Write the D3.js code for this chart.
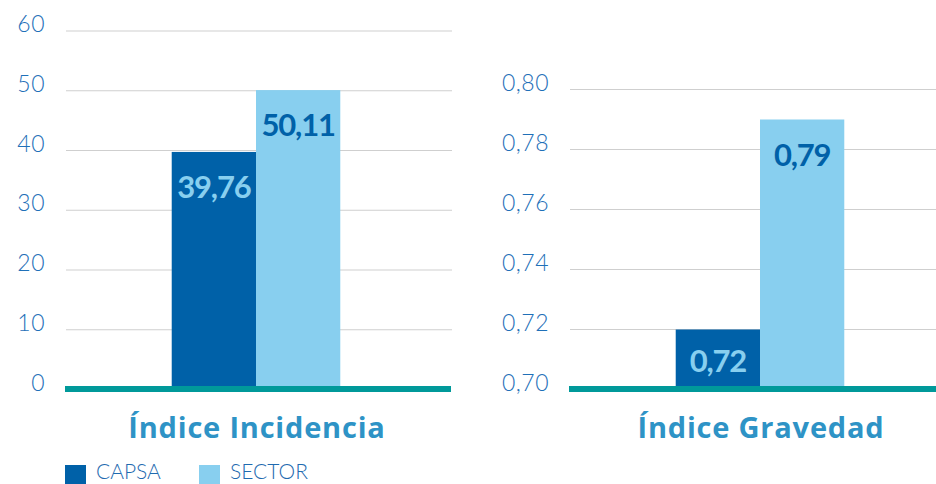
<!DOCTYPE html>
<html>
<head>
<meta charset="utf-8">
<script src="https://cdn.jsdelivr.net/npm/d3@7"></script>
<style>
  html, body { margin: 0; padding: 0; background: #ffffff; }
  svg { display: block; }
</style>
</head>
<body>
<svg id="chart" width="936" height="484"></svg>
<script>
// ---- data ----
const series = ["CAPSA", "SECTOR"];
const panelTitles = ["Índice Incidencia", "Índice Gravedad"];
const incidenciaValues = [39.76, 50.11];
const gravedadValues = [0.72, 0.79];
const incidenciaTicks = [0, 10, 20, 30, 40, 50, 60];
const gravedadTicks = [0.70, 0.72, 0.74, 0.76, 0.78, 0.80];

const colors = { CAPSA: "#0061a8", SECTOR: "#88cfef" };
const labelColors = { CAPSA: "#88cfef", SECTOR: "#0061a8" };
const fmtInc = v => d3.format(".2f")(v).replace(".", ",");
const fmtTickInc = v => d3.format("d")(v);
const fmtTickGrav = v => d3.format(".2f")(v).replace(".", ",");

const svg = d3.select("#chart");

const panels = [
  { title: panelTitles[0], values: incidenciaValues, ticks: incidenciaTicks,
    domain: [0, 60], range: [389.5, 31], x0: 65, x1: 451, labelX: 45,
    fmtTick: fmtTickInc, fmtVal: fmtInc },
  { title: panelTitles[1], values: gravedadValues, ticks: gravedadTicks,
    domain: [0.70, 0.80], range: [389.5, 89.5], x0: 569, x1: 955, labelX: 549,
    fmtTick: fmtTickGrav, fmtVal: fmtInc }
];

panels.forEach(p => {
  const g = svg.append("g");
  const y = d3.scaleLinear().domain(p.domain).range(p.range);
  const xg = d3.scaleBand().domain([p.title]).range([p.x0, p.x1]).paddingOuter(0.645).paddingInner(0);
  const xs = d3.scaleBand().domain(series).range([0, xg.bandwidth()]).padding(0);

  // gridlines
  g.selectAll("line.grid").data(p.ticks.slice(1)).join("line")
    .attr("x1", p.x0 + 1).attr("x2", p.x1 + 1)
    .attr("y1", d => y(d)).attr("y2", d => y(d))
    .attr("stroke", "#cfcfcf").attr("stroke-width", 1.2);

  // tick labels
  g.selectAll("text.tick").data(p.ticks).join("text")
    .attr("x", p.labelX).attr("y", d => y(d) + 1)
    .attr("text-anchor", "end")
    .attr("font-family", "Lato, 'Open Sans', sans-serif")
    .attr("font-weight", 300)
    .attr("font-size", 23)
    .attr("letter-spacing", 0.5)
    .attr("fill", "#1f70b8")
    .text(p.fmtTick);

  const base = y(p.domain[0]);
  const gx = xg(p.title) - 2;

  // bars
  g.selectAll("rect.bar").data(series).join("rect")
    .attr("x", s => gx + xs(s))
    .attr("width", xs.bandwidth())
    .attr("y", (s, i) => y(p.values[i]))
    .attr("height", (s, i) => base - y(p.values[i]))
    .attr("fill", s => colors[s]);

  // value labels
  g.selectAll("text.val").data(series).join("text")
    .attr("x", s => gx + xs(s) + xs.bandwidth() / 2)
    .attr("y", (s, i) => {
      const top = y(p.values[i]);
      return Math.min(top + 46, (top + base) / 2 + 12);
    })
    .attr("text-anchor", "middle")
    .attr("font-family", "Lato, sans-serif")
    .attr("font-weight", 700)
    .attr("font-size", 31)
    .attr("letter-spacing", -1.2)
    .attr("fill", s => labelColors[s])
    .text((s, i) => p.fmtVal(p.values[i]));

  // teal baseline
  g.append("line")
    .attr("x1", p.x0).attr("x2", p.x1)
    .attr("y1", base - 0.5).attr("y2", base - 0.5)
    .attr("stroke", "#00999a").attr("stroke-width", 6);

  // panel title
  g.append("text")
    .attr("x", (p.x0 + p.x1) / 2 - 1)
    .attr("y", 438)
    .attr("text-anchor", "middle")
    .attr("font-family", "'Open Sans', sans-serif")
    .attr("font-weight", 700)
    .attr("font-size", 29)
    .attr("letter-spacing", 0.8)
    .attr("fill", "#2e93c6")
    .text(p.title);
});

// legend
const legend = svg.append("g");
const legX = d3.scalePoint().domain(series).range([65, 199]);
series.forEach(s => {
  legend.append("rect")
    .attr("x", legX(s)).attr("y", 465).attr("width", 21).attr("height", 19)
    .attr("fill", colors[s]);
  legend.append("text")
    .attr("x", legX(s) + 31).attr("y", 479)
    .attr("font-family", "Lato, sans-serif")
    .attr("font-weight", 300)
    .attr("font-size", 21)
    .attr("fill", "#1f6bb0")
    .text(s);
});
</script>
</body>
</html>
